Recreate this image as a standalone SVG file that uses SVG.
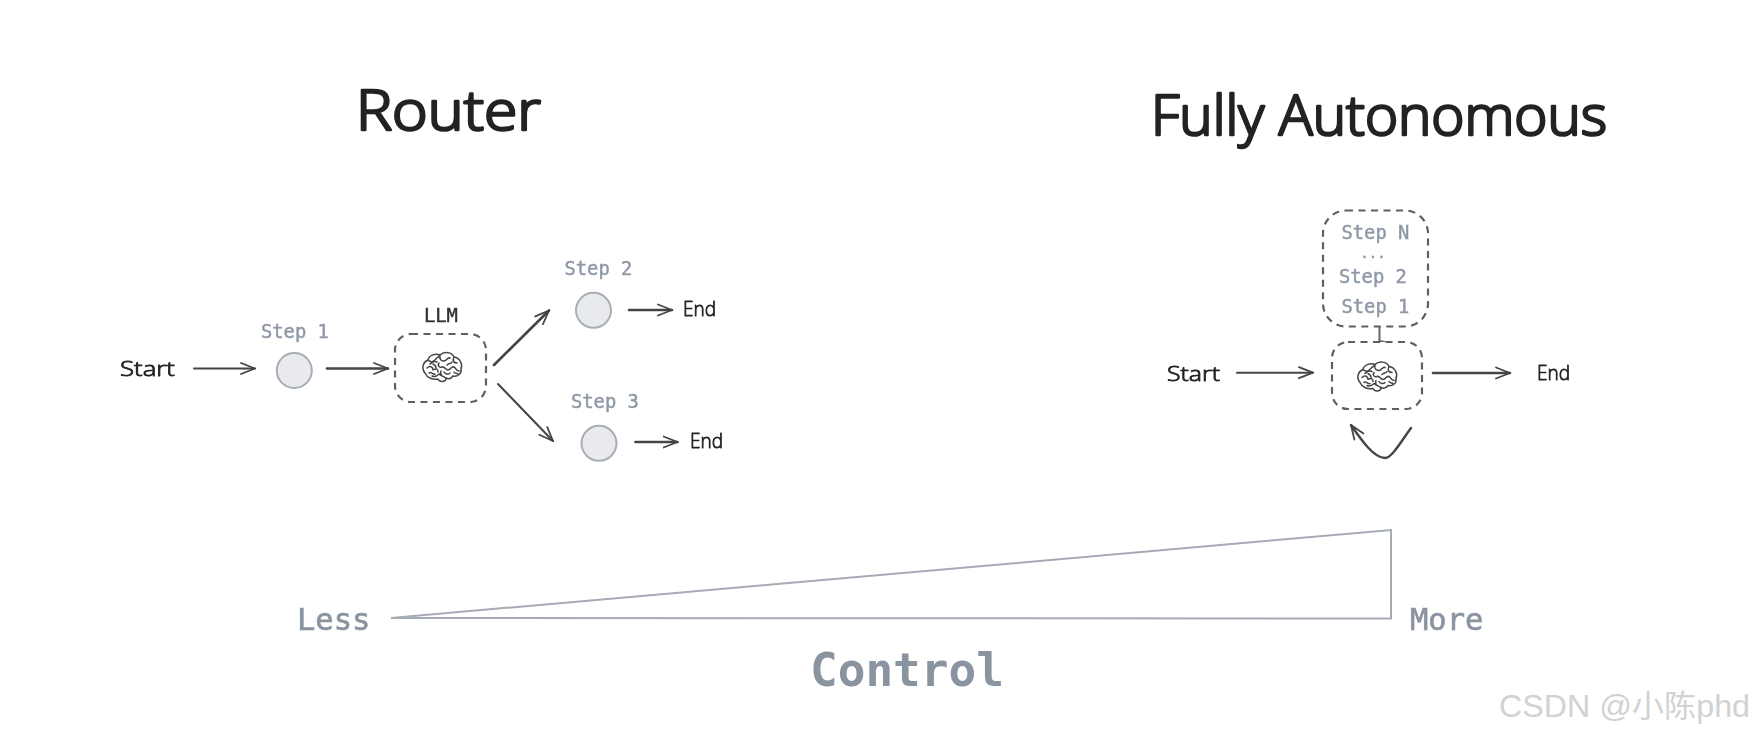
<svg xmlns="http://www.w3.org/2000/svg" width="1756" height="736" viewBox="0 0 1756 736">
<style>
.mono{font-family:"DejaVu Sans Mono","Liberation Mono",monospace}
.hand{font-family:"Open Sans","Noto Sans",sans-serif;font-weight:300;fill:#222;stroke:#222;stroke-linejoin:round}
.title{font-size:56px;stroke-width:2.6px}
.small{font-size:20px;stroke-width:.8px}
.step{font-size:18.8px;fill:#8e98a6;stroke:#8e98a6;stroke-width:.45px}
.scale{font-size:30.5px;fill:#8a94a0;stroke:#8a94a0;stroke-width:.65px}
.dash{fill:#fff;stroke:#5f5f5f;stroke-width:2.2;stroke-dasharray:7 5.5}
.dot{fill:#e8eaee;stroke:#a8aeb6;stroke-width:2}
.arrow{fill:none;stroke:#444;stroke-width:2;marker-end:url(#head);stroke-linecap:round}
.wedge{fill:none;stroke:#a5abb5;stroke-width:2}
.brainline{fill:none;stroke:#444;stroke-width:1.5;stroke-linecap:round;stroke-linejoin:round}
</style>
<defs>
<marker id="head" markerUnits="userSpaceOnUse" markerWidth="20" markerHeight="16" refX="15" refY="8" orient="auto">
<path d="M1 2.5 L15 8 L1 13.5" fill="none" stroke="#444" stroke-width="1.8" stroke-linecap="round" stroke-linejoin="round"/>
</marker>
<filter id="soft" x="0" y="0" width="100%" height="100%"><feGaussianBlur stdDeviation="0.6"/></filter>
<g id="brain">
<path class="brainline" d="M-17 6 C-21 1 -19 -5 -14 -7 C-13 -12 -6 -14 -2 -12 C2 -16 10 -15 12 -10 C18 -9 21 -3 19 2 C20 7 15 10 11 9 C9 12 6 12 4 11 C4 15 -2 16 -4 12 C-9 13 -15 11 -17 6 Z"/>
<path class="brainline" d="M-14 -7 C-11 -4 -9 -5 -7 -7 C-6 -9 -4 -9 -2 -12 M-2 -12 C-3 -8 -1 -6 2 -6 C5 -6 5 -10 8 -9 M12 -10 C10 -6 12 -4 15 -4 M-15 1 C-12 -2 -9 0 -9 3 C-6 1 -4 2 -4 5 M-3 -4 C-5 -1 -2 1 0 0 C3 -1 3 3 6 3 C9 3 9 -1 12 0 C14 1 14 4 17 4 M-13 6 C-11 4 -9 8 -7 7 M-10 9 C-8 10 -5 9 -3 7 C-1 9 1 9 4 11 M2 5 C3 7 6 8 8 6 M-9 -3 C-7 -2 -6 -1 -6 1 M-12 -3 C-10 -4 -9 -7 -5 -5 M5 -2 C7 -4 9 -3 10 -5 M-1 4 C-2 6 -1 8 0 9 M12 5 C13 7 15 6 16 7"/>
</g>
</defs>
<rect width="1756" height="736" fill="#fff"/>
<g filter="url(#soft)">
<g id="connectors">
<path class="arrow" d="M194 368.5 L255 368.5"/>
<path class="arrow" d="M327 368.5 L388 368.5" style="stroke-width:2.6"/>
<path class="arrow" d="M494 365 L549 310.5" style="stroke-width:2.6"/>
<path class="arrow" d="M498 384 L553 441"/>
<path class="arrow" d="M629 310 L672 310" style="stroke-width:2.6"/>
<path class="arrow" d="M635.5 442 L677.5 442" style="stroke-width:2.6"/>
<path class="arrow" d="M1237 372.7 L1313 372.7"/>
<path class="arrow" d="M1433 373 L1510 373" style="stroke-width:2.6"/>
<path d="M1379.5 327 L1379.5 341 L1385 342" fill="none" stroke="#666" stroke-width="2"/>
<path class="arrow" d="M1411 428 C1402 440 1392 458 1385 458 C1374 458 1362 441 1351 425" style="stroke-width:2.4"/>
</g>
<g id="title-router"><text class="hand title" x="356" y="130" textLength="185" lengthAdjust="spacingAndGlyphs">Router</text></g>
<g id="title-autonomous"><text class="hand title" x="1151" y="135" textLength="456" lengthAdjust="spacingAndGlyphs">Fully Autonomous</text></g>
<g id="router-start"><text class="hand small" x="120" y="376" textLength="55" lengthAdjust="spacingAndGlyphs">Start</text></g>
<g id="step1"><text class="mono step" x="261" y="338">Step 1</text><circle class="dot" cx="294.3" cy="370.5" r="17.5"/></g>
<g id="llm"><text class="mono" x="424" y="321.5" font-size="18.8" fill="#333" stroke="#333" stroke-width=".45">LLM</text><rect class="dash" x="395" y="334" width="91" height="68" rx="16"/><use href="#brain" x="442" y="367"/></g>
<g id="step2"><text class="mono step" x="564.5" y="275">Step 2</text><circle class="dot" cx="593.5" cy="310.3" r="17.5"/></g>
<g id="router-end2"><text class="hand small" x="683" y="316" textLength="33" lengthAdjust="spacingAndGlyphs">End</text></g>
<g id="step3"><text class="mono step" x="571" y="408">Step 3</text><circle class="dot" cx="599" cy="443.3" r="17.5"/></g>
<g id="router-end3"><text class="hand small" x="690" y="448" textLength="33" lengthAdjust="spacingAndGlyphs">End</text></g>
<g id="auto-start"><text class="hand small" x="1167" y="380.5" textLength="53" lengthAdjust="spacingAndGlyphs">Start</text></g>
<g id="memory"><rect class="dash" x="1323" y="210.5" width="105" height="116" rx="23"/>
<text class="mono step" x="1341.5" y="239">Step N</text><text class="mono step" x="1373" y="258" text-anchor="middle" style="font-size:14px">...</text><text class="mono step" x="1339" y="283">Step 2</text><text class="mono step" x="1341.5" y="312.5">Step 1</text></g>
<g id="agent"><rect class="dash" x="1332" y="342" width="90" height="67" rx="16"/><use href="#brain" x="1377" y="376.5"/></g>
<g id="auto-end"><text class="hand small" x="1537" y="380" textLength="33" lengthAdjust="spacingAndGlyphs">End</text></g>
<g id="control-scale"><path class="wedge" d="M391 618 L1391 530 L1391 618.5 Z"/>
<text class="mono scale" x="297" y="630">Less</text><text class="mono scale" x="1410" y="630">More</text>
<text class="mono" x="810" y="686" font-size="46" font-weight="700" fill="#8a94a0">Control</text></g>
</g>
<g id="watermark"><text x="1499" y="717" font-size="31" fill="#d2d2d2" font-family="'Liberation Sans','Noto Sans CJK SC',sans-serif" textLength="251" lengthAdjust="spacingAndGlyphs">CSDN @小陈phd</text></g>
</svg>
